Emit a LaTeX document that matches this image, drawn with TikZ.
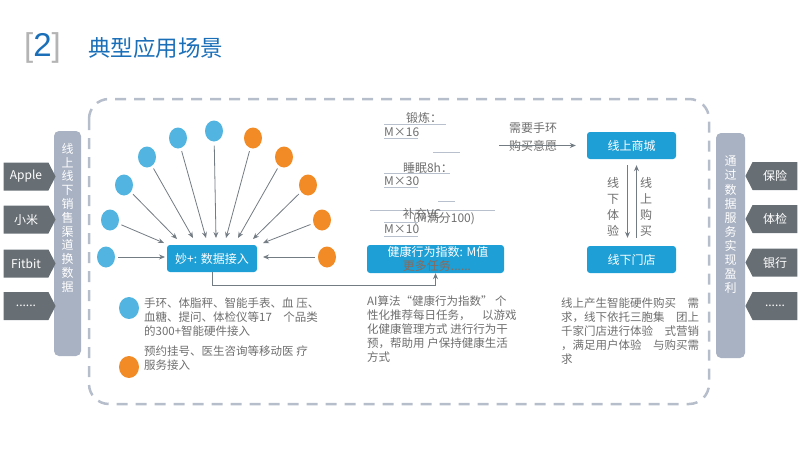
\documentclass[tikz,border=0pt]{standalone}
\usepackage{fontspec}
\setmainfont{Noto Sans CJK SC}
\newfontfamily\arialfont{Liberation Sans}
\usetikzlibrary{shapes.geometric,shapes.symbols,arrows.meta}
\definecolor{boxblue}{HTML}{1E9FD5}
\definecolor{cblue}{HTML}{52B4E0}
\definecolor{corange}{HTML}{F28A25}
\definecolor{arrgray}{HTML}{737B83}
\definecolor{taggray}{HTML}{676E74}
\definecolor{bargray}{HTML}{A9B2C2}
\definecolor{dashgray}{HTML}{B6BDCB}
\definecolor{txtgray}{HTML}{6E6E6E}
\definecolor{titleblue}{HTML}{1A6FB8}
\definecolor{taskbrown}{HTML}{8A6A5C}
\definecolor{linegray}{HTML}{B8C0CE}
\definecolor{brgray}{HTML}{B4B4B4}
\begin{document}
\begin{tikzpicture}[x=1pt,y=-1pt,
  bluebox/.style={fill=boxblue, rounded corners=3pt, text=white, inner sep=0pt, font=\fontsize{12}{14}\selectfont},
  dot/.style={ellipse, minimum width=18pt, minimum height=21pt, inner sep=0pt},
  bdot/.style={dot, fill=cblue},
  odot/.style={dot, fill=corange},
  arr/.style={draw=arrgray, line width=0.8pt, -{Stealth[length=6pt,width=5pt]}},
  thin line/.style={draw=linegray, line width=0.7pt},
  tagR/.style={signal, signal to=east, signal pointer angle=126, fill=taggray, text=white, minimum height=28pt, minimum width=52pt, inner sep=0pt, font=\fontsize{12}{14}\selectfont},
  tagL/.style={signal, signal to=west, signal pointer angle=126, fill=taggray, text=white, minimum height=28pt, minimum width=52pt, inner sep=0pt, font=\fontsize{12}{14}\selectfont},
  vbar/.style={fill=bargray, rounded corners=5pt},
  vtext/.style={text=white, align=center, inner sep=0pt, anchor=north},
  gtext/.style={text=txtgray, inner sep=0pt, font=\fontsize{11.5}{14}\selectfont},
  para/.style={gtext, align=left, anchor=north west}
]
\useasboundingbox (0,0) rectangle (800,450);

% title
\node[anchor=west, inner sep=0pt, font=\arialfont\fontsize{33}{35}\selectfont] (tnum) at (24,48)
  {{\color{brgray}[}{\color{titleblue}2}{\color{brgray}]}};
\node[anchor=west, inner sep=0pt, text=titleblue, font=\fontsize{22.5}{24}\selectfont] (title) at (88,48) {典型应用场景};

% dashed frame
\draw[dashgray, line width=2.5pt, dash pattern=on 11pt off 8pt, rounded corners=20pt] (89,99) rectangle (709,404);

% left bar and tags
\fill[vbar] (54,131) rectangle (81,356);
\node[vtext, font=\fontsize{12}{13.8}\selectfont] (lbar) at (67.5,143) {线\\上\\线\\下\\销\\售\\渠\\道\\换\\数\\据};
\node[tagR] (t1) at (26,176.5) {Apple};
\node[tagR] (t2) at (26,219.5) {小米};
\node[tagR] (t3) at (26,263.5) {Fitbit};
\node[tagR] (t4) at (26,306) {......};

% right bar and tags
\fill[vbar] (716,133) rectangle (745,358);
\node[vtext, font=\fontsize{12}{14.1}\selectfont] (rbar) at (730.5,156) {通\\过\\数\\据\\服\\务\\实\\现\\盈\\利};
\node[tagL] (r1) at (775,176) {保险};
\node[tagL] (r2) at (775,219) {体检};
\node[tagL] (r3) at (775,262.5) {银行};
\node[tagL] (r4) at (775,306) {......};

% hub
\node[bluebox, minimum width=90pt, minimum height=27pt] (hub) at (212,258.5) {妙+: 数据接入};

% circles
\node[bdot] (b1) at (106,257) {};
\node[bdot] (b2) at (110,220) {};
\node[bdot] (b3) at (124,185) {};
\node[bdot] (b4) at (147,157) {};
\node[bdot] (b5) at (178,138) {};
\node[bdot] (b6) at (214,131) {};
\node[odot] (o1) at (253,138) {};
\node[odot] (o2) at (284,157) {};
\node[odot] (o3) at (308,185) {};
\node[odot] (o4) at (322,220) {};
\node[odot] (o5) at (327,257) {};

\coordinate (e1) at (165,257);
\coordinate (e2) at (164,243);
\coordinate (e3) at (177,239);
\coordinate (e4) at (193,238);
\coordinate (e5) at (206,238);
\coordinate (e6) at (216,238);
\coordinate (e7) at (226,238);
\coordinate (e8) at (238,238);
\coordinate (e9) at (253,239);
\coordinate (e10) at (263,243);
\coordinate (e11) at (263,257);

\draw[arr, shorten <=3pt] (b1) -- (e1);
\draw[arr, shorten <=3pt] (b2) -- (e2);
\draw[arr, shorten <=3pt] (b3) -- (e3);
\draw[arr, shorten <=3pt] (b4) -- (e4);
\draw[arr, shorten <=3pt] (b5) -- (e5);
\draw[arr, shorten <=4pt] (b6) -- (e6);
\draw[arr, shorten <=3pt] (o1) -- (e7);
\draw[arr, shorten <=3pt] (o2) -- (e8);
\draw[arr, shorten <=3pt] (o3) -- (e9);
\draw[arr, shorten <=3pt] (o4) -- (e10);
\draw[arr, shorten <=3pt] (o5) -- (e11);

% health box
\node[bluebox, minimum width=137pt, minimum height=28pt] (health) at (435.5,259) {};
\node[inner sep=0pt, text=white, font=\fontsize{12}{14}\selectfont] (hl1) at (438,251.5) {健康行为指数: M值};
\node[inner sep=0pt, text=taskbrown, font=\fontsize{12}{14}\selectfont] (hl2) at (437,266) {更多任务......};

\draw[arr, line width=0.7pt] (hub.south) -- ++(0,13) -| (health.south);

% middle cluster
\node[gtext, font=\fontsize{12}{14}\selectfont] (k1) at (424,118) {锻炼：};
\draw[thin line] (384,124) -- (446,124);
\node[gtext, anchor=west, font=\fontsize{12}{14}\selectfont] (k1v) at (384,132) {M×16};
\draw[thin line] (384,138) -- (418,138);
\draw[thin line] (433,152) -- (460,152);
\node[gtext, font=\fontsize{12}{14}\selectfont] (k2) at (428,168) {睡眠8h：};
\draw[thin line] (384,173) -- (450,173);
\node[gtext, anchor=west, font=\fontsize{12}{14}\selectfont] (k2v) at (384,181) {M×30};
\draw[thin line] (384,187) -- (418,187);
\draw[thin line] (438,201) -- (455,201);
\draw[thin line] (370,210) -- (495,210);
\node[gtext, font=\fontsize{12}{14}\selectfont] (k3) at (422,214) {补充VC};
\node[gtext, font=\fontsize{12}{14}\selectfont] (k3n) at (444,219) {(M满分100)};
\draw[thin line] (384,222) -- (418,222);
\node[gtext, anchor=west, font=\fontsize{12}{14}\selectfont] (k3v) at (384,229) {M×10};
\draw[thin line] (384,236) -- (418,236);

% shop and store
\node[bluebox, minimum width=89pt, minimum height=27pt] (shop) at (631.5,145.5) {线上商城};
\node[bluebox, minimum width=89pt, minimum height=27pt] (store) at (631.5,259.5) {线下门店};
\node[gtext, font=\fontsize{12}{14}\selectfont] (w1) at (533,128) {需要手环};
\node[gtext, font=\fontsize{12}{14}\selectfont] (w2) at (533,146) {购买意愿};
\coordinate (ws) at (499,145.5);
\draw[arr, shorten >=11pt] (ws) -- (shop.west);
\draw[arr, shorten <=6pt, shorten >=8pt] ([xshift=-4pt]shop.south) -- ([xshift=-4pt]store.north);
\draw[arr, shorten <=8pt, shorten >=6pt] ([xshift=5pt]store.north) -- ([xshift=5pt]shop.south);
\node[gtext, align=center, font=\fontsize{12}{16}\selectfont] (d1) at (613,207) {线\\下\\体\\验};
\node[gtext, align=center, font=\fontsize{12}{16}\selectfont] (d2) at (646,207) {线\\上\\购\\买};

% bottom texts
\node[bdot, minimum width=20pt, minimum height=22pt] (lb) at (129,308) {};
\node[odot, minimum width=20pt, minimum height=22pt] (lo) at (129,367) {};
\node[para] (p1) at (144,298) {手环、体脂秤、智能手表、血 压、\\血糖、提问、体检仪等17\quad 个品类\\的300+智能硬件接入};
\node[para] (p2) at (144,346) {预约挂号、医生咨询等移动医 疗\\服务接入};
\node[para] (p3) at (367,296) {AI算法“健康行为指数” 个\\性化推荐每日任务，\quad 以游戏\\化健康管理方式 进行行为干\\预，帮助用 户保持健康生活\\方式};
\node[para] (p4) at (561,298) {线上产生智能硬件购买\quad 需\\求，线下依托三胞集\quad 团上\\千家门店进行体验\quad 式营销\\，满足用户体验\quad 与购买需\\求};
\end{tikzpicture}
\end{document}
